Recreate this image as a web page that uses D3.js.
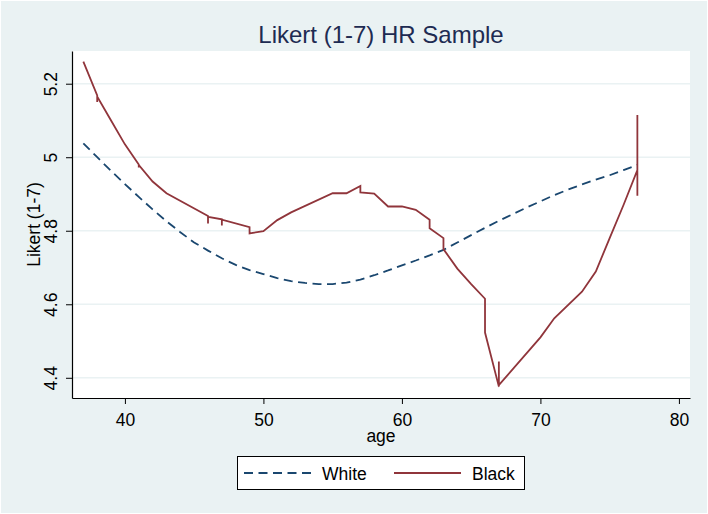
<!DOCTYPE html>
<html>
<head>
<meta charset="utf-8">
<script src="https://cdn.jsdelivr.net/npm/d3@7"></script>
<style>
  html, body { margin: 0; padding: 0; background: #eaf2f3; }
  text { font-family: 'Liberation Sans', Arial, sans-serif; }
</style>
</head>
<body>
<svg id="chart" width="708" height="514"></svg>
<script>
'use strict';

const titleText = 'Likert (1-7) HR Sample';
const xTitle = 'age';
const yTitle = 'Likert (1-7)';
const xTicks = [40, 50, 60, 70, 80];
const yTicks = [4.4, 4.6, 4.8, 5, 5.2];
const seriesNames = ['White', 'Black'];

// White: fitted value per age
const whiteAge = [37, 38, 39, 40, 41, 42, 43, 44, 45, 46, 47, 48, 49, 50, 51, 52, 53, 54, 55, 56, 57,
  58, 59, 60, 61, 62, 63, 64, 65, 66, 67, 68, 69, 70, 71, 72, 73, 74, 75, 76, 77];
const whiteVal = [5.038, 5.000, 4.963, 4.927, 4.892, 4.858, 4.826, 4.796, 4.768, 4.746, 4.725,
  4.707, 4.693, 4.682, 4.671, 4.663, 4.658, 4.655, 4.655, 4.659, 4.667, 4.679, 4.692, 4.706,
  4.719, 4.733, 4.748, 4.768, 4.788, 4.808, 4.827, 4.845, 4.863, 4.880, 4.897, 4.912, 4.926,
  4.939, 4.951, 4.965, 4.979];

// Black: repeated ages give the little vertical spikes
const blackAge = [37, 38, 38, 38, 39, 40, 41, 41, 41, 42, 43, 46, 46, 46, 47, 47, 47, 49, 49, 50,
  51, 52, 55, 56, 57, 57, 58, 59, 60, 61, 62, 62, 63, 63, 64, 65, 66, 66, 67, 67, 67, 70, 71, 73,
  74, 75, 76, 77, 77, 77];
const blackVal = [5.26, 5.168, 5.15, 5.165, 5.10, 5.035, 4.98, 4.972, 4.979, 4.934, 4.902, 4.840,
  4.820, 4.838, 4.831, 4.814, 4.830, 4.810, 4.793, 4.799, 4.829, 4.85, 4.902, 4.902, 4.922, 4.904,
  4.901, 4.866, 4.866, 4.857, 4.83, 4.807, 4.78, 4.75, 4.697, 4.655, 4.615, 4.523, 4.376, 4.444,
  4.38, 4.510, 4.562, 4.634, 4.689, 4.78, 4.87, 4.965, 5.115, 4.895];

const colors = { White: '#1a476f', Black: '#90353b' };
const dashes = { White: '9,5.5', Black: null };

const plot = { left: 72, right: 690, top: 51, bottom: 398 };

const svg = d3.select('#chart');

svg.append('rect')
  .attr('x', 0.5).attr('y', 0.5).attr('width', 707).attr('height', 513)
  .attr('fill', '#eaf2f3').attr('stroke', '#ffffff');

svg.append('rect')
  .attr('x', plot.left).attr('y', plot.top)
  .attr('width', plot.right - plot.left).attr('height', plot.bottom - plot.top)
  .attr('fill', '#ffffff');

const x = d3.scaleLinear().domain([36.18, 80.8]).range([plot.left, plot.right]);
const y = d3.scaleLinear().domain([4.345, 5.289]).range([plot.bottom, plot.top]);

// grid
svg.append('g')
  .selectAll('line')
  .data(yTicks)
  .join('line')
  .attr('x1', plot.left).attr('x2', plot.right)
  .attr('y1', d => y(d)).attr('y2', d => y(d))
  .attr('stroke', '#eaf2f3').attr('stroke-width', 1.5);

// axes, no end ticks
const xAxis = svg.append('g')
  .attr('transform', `translate(0,${plot.bottom})`)
  .call(d3.axisBottom(x).tickValues(xTicks).tickSizeInner(6).tickSizeOuter(0)
    .tickPadding(5).tickFormat(d3.format('d')));

const yAxis = svg.append('g')
  .attr('transform', `translate(${plot.left},0)`)
  .call(d3.axisLeft(y).tickValues(yTicks).tickSizeInner(6).tickSizeOuter(0)
    .tickPadding(0).tickFormat(d => String(d)));

[xAxis, yAxis].forEach(axis => {
  axis.select('.domain').attr('stroke', '#000').attr('stroke-width', 1.2);
  axis.selectAll('.tick line').attr('stroke', '#000');
  axis.selectAll('.tick text')
    .attr('fill', '#000')
    .style('font-family', "'Liberation Sans', Arial, sans-serif")
    .style('font-size', '17.5px');
});

yAxis.selectAll('.tick text')
  .attr('x', null).attr('dy', null)
  .attr('text-anchor', 'middle')
  .attr('transform', 'translate(-15,0) rotate(-90)');

xAxis.selectAll('.tick text').attr('dy', '0.95em');

// titles
svg.append('text')
  .attr('x', 381).attr('y', 43)
  .attr('text-anchor', 'middle')
  .attr('fill', '#1e2b52')
  .style('font-size', '24px')
  .text(titleText);

svg.append('text')
  .attr('x', (plot.left + plot.right) / 2).attr('y', 442)
  .attr('text-anchor', 'middle')
  .style('font-size', '17.5px')
  .text(xTitle);

svg.append('text')
  .attr('transform', `translate(40,${(plot.top + plot.bottom) / 2}) rotate(-90)`)
  .attr('text-anchor', 'middle')
  .style('font-size', '17.5px')
  .text(yTitle);

// lines
const line = d3.line().x(d => x(d[0])).y(d => y(d[1]));
const series = [
  { name: 'White', points: whiteAge.map((a, i) => [a, whiteVal[i]]) },
  { name: 'Black', points: blackAge.map((a, i) => [a, blackVal[i]]) }
];

svg.append('g')
  .selectAll('path')
  .data(series)
  .join('path')
  .attr('d', d => line(d.points))
  .attr('fill', 'none')
  .attr('stroke', d => colors[d.name])
  .attr('stroke-width', 1.8)
  .attr('stroke-dasharray', d => dashes[d.name]);

// legend
const legend = svg.append('g').attr('transform', 'translate(237,456)');
legend.append('rect')
  .attr('x', 0.5).attr('y', 0.5).attr('width', 287).attr('height', 33)
  .attr('fill', '#ffffff').attr('stroke', '#000').attr('stroke-width', 1);

const item = legend.selectAll('g.item')
  .data(seriesNames)
  .join('g')
  .attr('class', 'item')
  .attr('transform', (d, i) => `translate(${7 + i * 150},17)`);

item.append('line')
  .attr('x1', 0).attr('x2', 67)
  .attr('stroke', d => colors[d])
  .attr('stroke-width', 1.8)
  .attr('stroke-dasharray', d => dashes[d]);

item.append('text')
  .attr('x', 78).attr('y', 6.5)
  .style('font-size', '17.5px')
  .text(d => d);
</script>
</body>
</html>
